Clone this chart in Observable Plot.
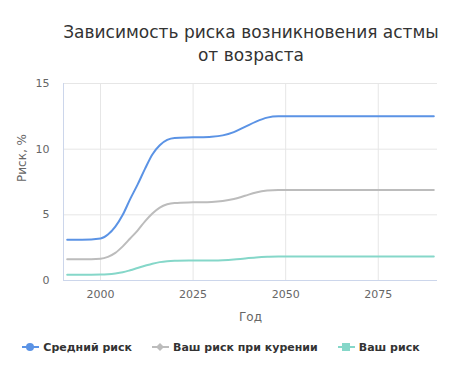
<!DOCTYPE html>
<html>
<head>
<meta charset="utf-8">
<script src="https://cdn.jsdelivr.net/npm/d3@7"></script>
<script src="https://cdn.jsdelivr.net/npm/@observablehq/plot@0.6"></script>
<style>
  body { margin: 0; background: #fff; font-family: "DejaVu Sans", sans-serif; }
  #wrap { width: 468px; height: 368px; position: relative; overflow: hidden; }
  #title { height: 70px; box-sizing: border-box; padding-top: 21px; padding-left: 34px; width: 468px; text-align: center; font-size: 17px; line-height: 23px; color: #333; }
  #legend { display: flex; justify-content: center; align-items: center; font-size: 11px; font-weight: bold; color: #333; height: 20px; margin-top: 12px; padding-right: 26px; }
  .item { display: flex; align-items: center; margin: 0 10px; }
  .item svg { margin-right: 4px; }
</style>
</head>
<body>
<div id="wrap">
  <div id="title">Зависимость риска возникновения астмы<br>от возраста</div>
  <div id="chart"></div>
  <div id="legend"></div>
</div>
<script>
const years     = [1991, 1995, 2000, 2002, 2004, 2006, 2008, 2010, 2012, 2014, 2016, 2018, 2020, 2025, 2030, 2033, 2036, 2039, 2042, 2045, 2048, 2050, 2060, 2070, 2080, 2090];
const avgRisk   = [3.1, 3.1, 3.2, 3.5, 4.1, 5.0, 6.2, 7.3, 8.5, 9.6, 10.3, 10.7, 10.85, 10.9, 10.95, 11.05, 11.3, 11.7, 12.1, 12.4, 12.5, 12.5, 12.5, 12.5, 12.5, 12.5];
const smokeRisk = [1.62, 1.62, 1.66, 1.8, 2.1, 2.6, 3.2, 3.8, 4.5, 5.1, 5.55, 5.8, 5.9, 5.95, 5.98, 6.05, 6.2, 6.45, 6.7, 6.85, 6.9, 6.9, 6.9, 6.9, 6.9, 6.9];
const yourRisk  = [0.43, 0.43, 0.45, 0.48, 0.54, 0.63, 0.78, 0.95, 1.12, 1.28, 1.4, 1.47, 1.5, 1.52, 1.53, 1.55, 1.6, 1.68, 1.75, 1.8, 1.83, 1.83, 1.83, 1.83, 1.83, 1.83];
const seriesNames = ["Средний риск", "Ваш риск при курении", "Ваш риск"];
const seriesColors = ["#5b93e5", "#bcbcbc", "#85d7c9"];
const seriesSymbols = ["circle", "diamond", "square"];
const xTicks = [2000, 2025, 2050, 2075];
const yTicks = [0, 5, 10, 15];
const xLabel = "Год";
const yLabel = "Риск, %";

const allSeries = [avgRisk, smokeRisk, yourRisk];
const data = [];
allSeries.forEach((vals, i) => vals.forEach((v, j) => data.push({year: years[j], value: v, series: seriesNames[i]})));

const chart = Plot.plot({
  width: 468,
  height: 255,
  marginLeft: 63,
  marginRight: 31,
  marginTop: 13,
  marginBottom: 45,
  style: {fontFamily: "DejaVu Sans, sans-serif", fontSize: "11px", color: "#666", background: "transparent"},
  x: {domain: [1990, 2091], ticks: xTicks, tickFormat: d => String(d), tickSize: 0, tickPadding: 10, label: null},
  y: {domain: [0, 15], ticks: yTicks, tickSize: 0, tickPadding: 14, label: null},
  color: {domain: seriesNames, range: seriesColors},
  marks: [
    Plot.ruleY(yTicks.filter(d => d > 0), {stroke: "#e6e6e6", strokeWidth: 1, strokeOpacity: 1}),
    Plot.ruleX(xTicks, {stroke: "#e6e6e6", strokeWidth: 1, strokeOpacity: 1}),
    Plot.ruleY([0], {stroke: "#ccd6eb", strokeWidth: 1}),
    Plot.ruleX([1990], {stroke: "#ccd6eb", strokeWidth: 1}),
    Plot.axisX({ticks: xTicks, tickSize: 0, tickPadding: 10, tickFormat: d => String(d), fill: "#666", fontSize: 11, label: null}),
    Plot.axisY({ticks: yTicks, tickSize: 0, tickPadding: 14, fill: "#666", fontSize: 11, label: null}),
    Plot.text([xLabel], {frameAnchor: "bottom", dy: 40, fill: "#666", fontSize: 12}),
    Plot.text([yLabel], {frameAnchor: "left", dx: -41, rotate: -90, fill: "#666", fontSize: 12}),
    Plot.line(data, {x: "year", y: "value", stroke: "series", z: "series", strokeWidth: 2, curve: "monotone-x"})
  ]
});
document.getElementById("chart").appendChild(chart);

const legend = document.getElementById("legend");
seriesNames.forEach((name, i) => {
  const item = document.createElement("div");
  item.className = "item";
  const c = seriesColors[i];
  let sym = "";
  if (seriesSymbols[i] === "circle") sym = `<circle cx="8" cy="6" r="4" fill="${c}"/>`;
  else if (seriesSymbols[i] === "diamond") sym = `<path d="M8 2 L12 6 L8 10 L4 6 Z" fill="${c}"/>`;
  else sym = `<rect x="4" y="2" width="8" height="8" fill="${c}"/>`;
  item.innerHTML = `<svg width="17" height="12"><line x1="0" y1="6" x2="17" y2="6" stroke="${c}" stroke-width="2"/>${sym}</svg><span>${name}</span>`;
  legend.appendChild(item);
});
</script>
</body>
</html>
